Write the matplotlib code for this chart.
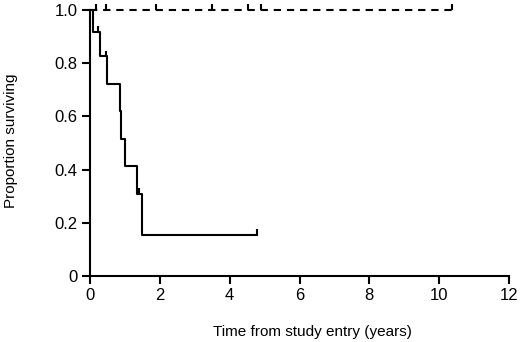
import matplotlib
matplotlib.use("Agg")
import matplotlib.pyplot as plt

plt.rcParams['font.family'] = ['Liberation Sans', 'DejaVu Sans']

# solid group: step times and survival after each step
solid_t = [0, 0.09, 0.29, 0.49, 0.86, 0.89, 1.0, 1.35, 1.49, 4.78]
solid_s = [1.0, 0.917, 0.825, 0.722, 0.619, 0.516, 0.413, 0.309, 0.155, 0.155]
solid_cens_t = [0.23, 0.46, 1.40, 4.78]
solid_cens_s = [0.917, 0.825, 0.309, 0.155]

# dashed group: no events, censored only
dash_t = [0, 10.37]
dash_s = [1.0, 1.0]
dash_cens_t = [0.17, 0.46, 1.9, 3.5, 4.52, 4.9, 10.37]

xticks = [0, 2, 4, 6, 8, 10, 12]
yticks = [0, 0.2, 0.4, 0.6, 0.8, 1.0]
ylabels = ['0', '0.2', '0.4', '0.6', '0.8', '1.0']

fig = plt.figure(figsize=(5.2, 3.42), dpi=100)
ax = fig.add_axes([0.173, 0.193, 0.806, 0.778])

lw = 1.5
tick_h = 0.022
ax.step(solid_t, solid_s, where='post', color='black', lw=lw, clip_on=False)
ax.vlines(solid_cens_t, solid_cens_s, [s + tick_h for s in solid_cens_s],
          color='black', lw=lw, clip_on=False)

ax.plot(dash_t, dash_s, color='black', lw=lw, ls=(0, (3.5, 2.8)), clip_on=False)
ax.vlines(dash_cens_t, 1.0, 1.0 + tick_h, color='black', lw=lw, clip_on=False)

ax.set_xlim(0, 12)
ax.set_ylim(0, 1)
ax.set_xticks(xticks)
ax.set_xticklabels([str(x) for x in xticks])
ax.set_yticks(yticks)
ax.set_yticklabels(ylabels)
for s in ['top', 'right']:
    ax.spines[s].set_visible(False)
for s in ['left', 'bottom']:
    ax.spines[s].set_linewidth(lw)
ax.tick_params(direction='out', length=6, width=lw, labelsize=12, pad=3)

ax.set_xlabel('Time from study entry (years)', fontsize=11)
ax.xaxis.label.set_va('center')
ax.xaxis.set_label_coords(0.532, -0.21)
ax.set_ylabel('Proportion surviving', fontsize=11)
ax.yaxis.set_label_coords(-0.172, 0.51)

fig.savefig('out.png', dpi=100)
